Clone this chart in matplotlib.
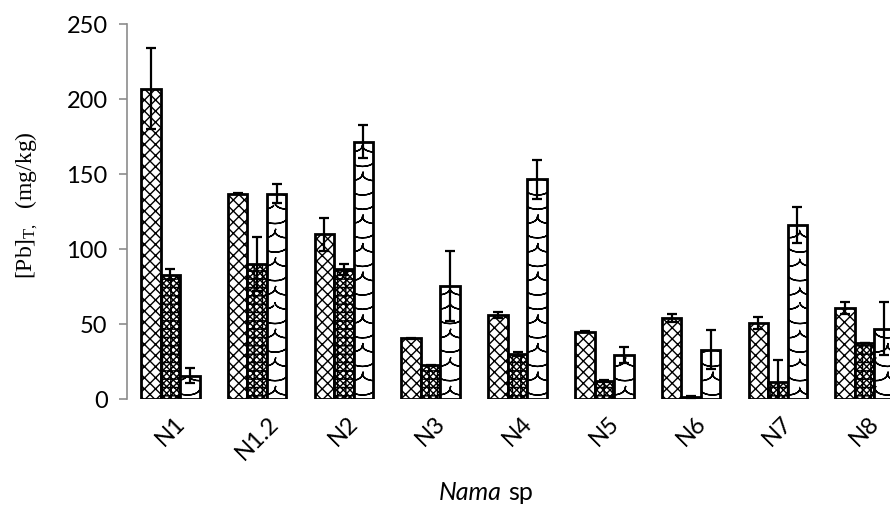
import numpy as np
import matplotlib
matplotlib.use("Agg")
import matplotlib.pyplot as plt
from matplotlib import hatch as mhatch
from matplotlib.path import Path

categories = ["N1", "N1.2", "N2", "N3", "N4", "N5", "N6", "N7", "N8"]
series1 = [207, 137, 110, 40.5, 56, 45, 54, 51, 60.5]
series1_err = [27, 0.5, 11, 0.5, 2, 0.5, 2.5, 4, 4]
series2 = [83, 90, 86.5, 22.5, 30, 12, 1.5, 11.5, 37.5]
series2_err = [3.5, 18, 3.5, 0.5, 1.5, 0.5, 0.5, 14.5, 0]
series3 = [15.5, 137, 171.5, 75.5, 146.5, 29.5, 33, 116, 47]
series3_err = [5, 6.5, 11, 23.5, 13, 5.5, 13, 12, 17.5]
yticks = [0, 50, 100, 150, 200, 250]


# Custom "scallop" hatch style (triggered by the 'O' hatch character).
# Each arc is traced forward and back so the filled area is zero.
class ScallopHatch(mhatch.HatchPatternBase):
    rows = 7
    cols = 4
    seg = 10

    def __init__(self, hatch, density):
        self.on = hatch.count('O') > 0
        n_arcs = self.rows * (self.cols + 1) if self.on else 0
        self.num_vertices = n_arcs * (2 * self.seg + 1)

    def set_vertices_and_codes(self, vertices, codes):
        t = np.linspace(0, np.pi, self.seg + 1)
        t = np.concatenate([t, t[-2::-1]])
        w = 1.0 / self.cols
        h = 1.0 / self.rows
        n = len(t)
        k = 0
        for r in range(self.rows):
            y0 = (r + 0.8) * h
            off = (w / 2) if r % 2 else 0.0
            for c in range(self.cols + 1):
                x0 = c * w - off
                vertices[k:k + n, 0] = x0 + w * (1 - np.cos(t)) / 2
                vertices[k:k + n, 1] = y0 - 0.45 * h * np.sin(t)
                codes[k] = Path.MOVETO
                codes[k + 1:k + n] = Path.LINETO
                k += n


mhatch._hatch_types = [ScallopHatch if ht is mhatch.LargeCircles else ht
                       for ht in mhatch._hatch_types]

plt.rcParams['hatch.linewidth'] = 1.0
plt.rcParams['mathtext.default'] = 'regular'

fig = plt.figure(figsize=(8.9, 5.06), dpi=100)
ax = fig.add_axes([127/890, 106/506, (908-127)/890, 375/506])

x = np.arange(len(categories))
w = 0.225
ekw = dict(ecolor='black', elinewidth=1.6, capsize=3.3, capthick=1.6, zorder=3)
ax.bar(x - w, series1, w, yerr=series1_err, color='white', edgecolor='black',
       linewidth=2.0, hatch='xxx', error_kw=ekw, zorder=2)
ax.bar(x, series2, w, yerr=series2_err, color='white', edgecolor='black',
       linewidth=2.0, hatch='xxxxx++', error_kw=ekw, zorder=2)
ax.bar(x + w, series3, w, yerr=series3_err, color='white', edgecolor='black',
       linewidth=2.0, hatch='O', error_kw=ekw, zorder=2)

ax.set_xlim(-0.5, 8.5)
ax.set_ylim(0, 250)
ax.set_yticks(yticks)
ax.set_yticklabels([str(v) for v in yticks], fontsize=17, family='Lato')
ax.set_xticks(x)
ax.set_xticklabels(categories, rotation=45, ha='center', va='top',
                   fontsize=17, family='Lato')
for s in ['top', 'right', 'bottom']:
    ax.spines[s].set_visible(False)
ax.spines['left'].set_color('#8c8c8c')
ax.spines['left'].set_linewidth(1.2)
ax.tick_params(axis='y', direction='out', length=6, width=1.2, color='#8c8c8c', pad=8)
ax.tick_params(axis='x', length=0, pad=9)

fig.text(27/890, 1 - 205/506, r'[Pb]$_{\mathregular{T,}}$  (mg/kg)', rotation=90,
         ha='center', va='center', fontsize=17, family='Liberation Serif')
fig.text(502/890, 1 - 493/506, 'Nama', style='italic', ha='right', va='center',
         fontsize=18, family='Lato')
fig.text(508/890, 1 - 493/506, 'sp', ha='left', va='center',
         fontsize=18, family='Lato')

fig.savefig('out.png', dpi=100)
